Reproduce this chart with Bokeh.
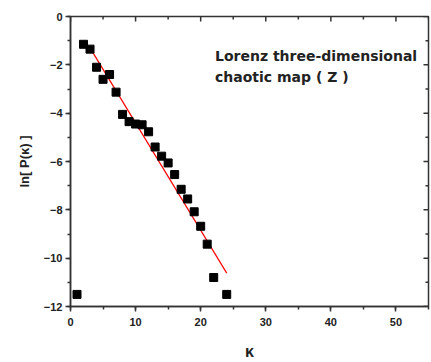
import math
from bokeh.plotting import figure
from bokeh.models import SingleIntervalTicker, Range1d, Label
from bokeh.embed import file_html
from bokeh.resources import INLINE

# data
k_vals = [1, 2, 3, 4, 5, 6, 7, 8, 9, 10, 11, 12, 13, 14, 15, 16, 17, 18, 19, 20, 21, 22, 24]
lnp_vals = [-11.5, -1.15, -1.35, -2.1, -2.6, -2.4, -3.13, -4.05, -4.35, -4.45, -4.48, -4.77,
            -5.4, -5.78, -6.06, -6.54, -7.15, -7.55, -8.08, -8.68, -9.42, -10.8, -11.5]
fit_k = [3, 24]
fit_lnp = [-1.3, -10.62]
x_ticks_interval = 10
y_ticks_interval = 2
x_lo, x_hi = 0, 55
y_lo, y_hi = -12, 0
x_major = [0, 10, 20, 30, 40, 50]
x_minor = [5, 15, 25, 35, 45, 55]
y_major = [-12, -10, -8, -6, -4, -2, 0]
y_minor = [-11, -9, -7, -5, -3, -1]
note_lines = ["Lorenz  three-dimensional", "chaotic  map ( Z )"]

FONT = "Liberation Sans"
AXC = "#333333"

p = figure(width=431, height=362, output_backend="svg", toolbar_location=None,
           x_range=Range1d(x_lo, x_hi), y_range=Range1d(y_lo, y_hi),
           min_border_left=70, min_border_right=3, min_border_top=16, min_border_bottom=10,
           x_axis_label="κ", y_axis_label="ln[ P(κ) ]")
p.grid.visible = False
p.outline_line_color = AXC
p.outline_line_width = 1.5
p.background_fill_color = "white"
p.border_fill_color = "white"

p.xaxis.ticker = SingleIntervalTicker(interval=x_ticks_interval, num_minor_ticks=2)
p.yaxis.ticker = SingleIntervalTicker(interval=y_ticks_interval, num_minor_ticks=2)

for ax in (p.xaxis[0], p.yaxis[0]):
    ax.axis_line_color = AXC
    ax.axis_line_width = 1.5
    ax.major_tick_line_color = AXC
    ax.minor_tick_line_color = AXC
    ax.major_tick_line_width = 1.5
    ax.minor_tick_line_width = 1.5
    ax.major_tick_out = 5
    ax.major_tick_in = 0
    ax.minor_tick_out = 3
    ax.minor_tick_in = 0
    ax.major_label_text_font = FONT
    ax.major_label_text_font_style = "bold"
    ax.major_label_text_font_size = "11px"
    ax.major_label_text_color = "#222222"
    ax.axis_label_text_font = FONT
    ax.axis_label_text_font_style = "bold"
    ax.axis_label_text_font_size = "13px"
    ax.axis_label_text_color = "#222222"

p.xaxis[0].major_label_standoff = 6
p.xaxis[0].axis_label_standoff = 14
p.xaxis[0].axis_label_text_font_size = "16px"
p.yaxis[0].major_label_standoff = 3
p.yaxis[0].axis_label_standoff = 9

# inward mirror ticks on the top and right edges (half of each dash is clipped by the frame)
p.scatter([x_hi] * len(y_major), y_major, marker="dash", size=10, line_color=AXC, line_width=1.5)
p.scatter([x_hi] * len(y_minor), y_minor, marker="dash", size=6, line_color=AXC, line_width=1.5)
p.scatter(x_major, [y_hi] * len(x_major), marker="dash", angle=math.pi / 2, size=10,
          line_color=AXC, line_width=1.5)
p.scatter(x_minor, [y_hi] * len(x_minor), marker="dash", angle=math.pi / 2, size=6,
          line_color=AXC, line_width=1.5)

p.line(fit_k, fit_lnp, line_color="red", line_width=1.2)
p.scatter(k_vals, lnp_vals, marker="square", size=8, fill_color="black", line_color="black")

for i, t in enumerate(note_lines):
    p.add_layout(Label(x=22.2, y=-1.62 - 0.9 * i, text=t, text_font="DejaVu Sans",
                       text_font_size="14px", text_font_style="bold", text_color="#222222",
                       text_baseline="middle"))

open("out.html", "w").write(file_html(p, INLINE))
